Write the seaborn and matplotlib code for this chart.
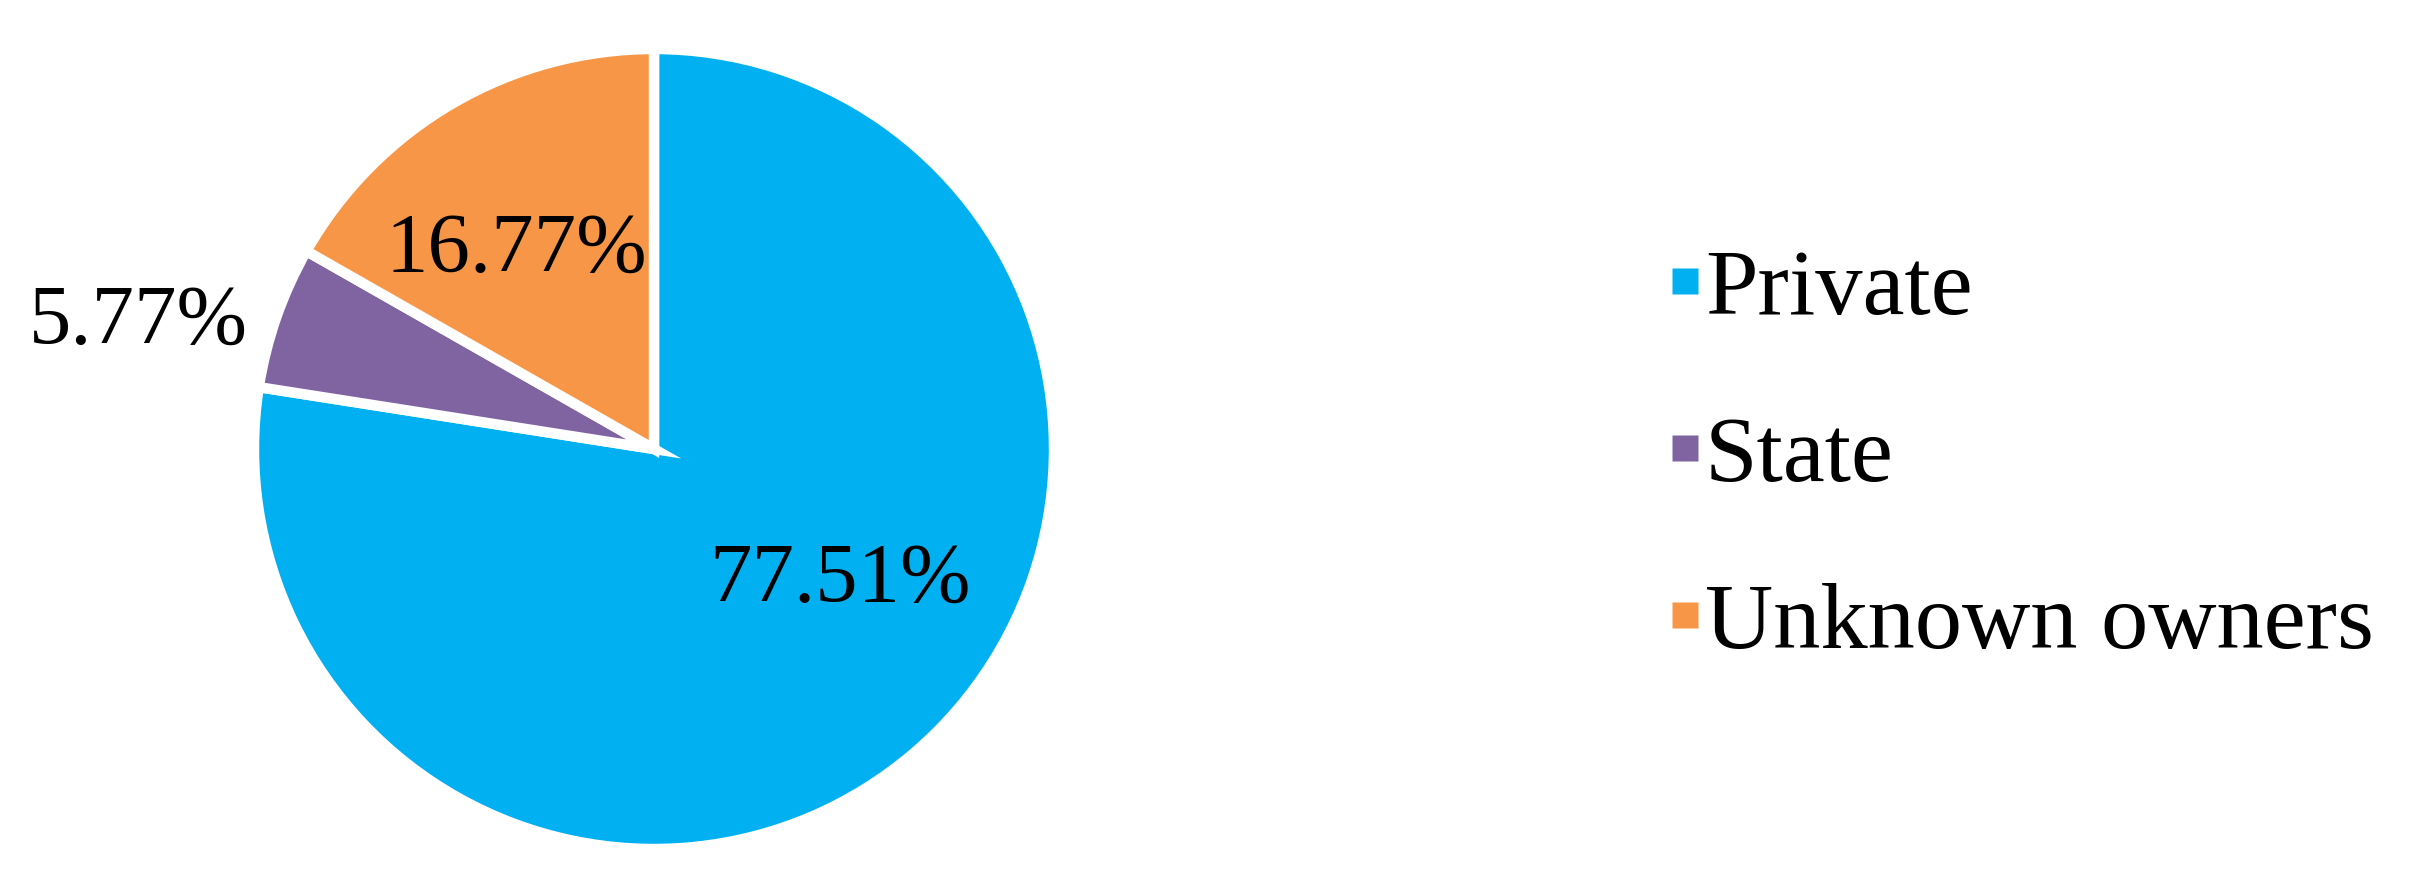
import matplotlib
matplotlib.use('Agg')
import matplotlib.pyplot as plt
from matplotlib.lines import Line2D
import seaborn as sns

# data
owners = ['Private', 'State', 'Unknown owners']
shares = [77.51, 5.77, 16.77]
colors = ['#00B0F0', '#8064A2', '#F79646']
# where each percent label sits (radius units, from the pie centre)
label_pos = [(0.465, -0.33), (-1.29, 0.315), (-0.345, 0.495)]

sns.set_theme(style='white')
plt.rcParams['font.family'] = ['Liberation Serif', 'DejaVu Serif']
plt.rcParams['text.color'] = 'black'

fig = plt.figure(figsize=(24.09, 8.76), dpi=100)
ax = fig.add_axes([(654 - 408) / 2409, (427 - 408) / 876, 816 / 2409, 816 / 876])

wedges, _ = ax.pie(
    shares, colors=colors, startangle=90, counterclock=False, radius=1,
    wedgeprops=dict(edgecolor='white', linewidth=7.5))
for s, (x, y) in zip(shares, label_pos):
    ax.text(x, y, f'{s:.2f}%', ha='center', va='center',
            fontsize=61, color='black')
ax.set_xlim(-1.02, 1.02)
ax.set_ylim(-1.02, 1.02)
ax.set_aspect('equal')
ax.axis('off')

# small square keys
handles = [Line2D([], [], marker='s', linestyle='none', markersize=19,
                  markerfacecolor=c, markeredgecolor='none') for c in colors]
fig.legend(handles, owners, loc='center left',
           bbox_to_anchor=(1675 / 2409, 418 / 876),
           frameon=False, fontsize=68, borderpad=0, borderaxespad=0,
           handlelength=0.215, handletextpad=0.1,
           labelspacing=0.86, labelcolor='black')

fig.savefig('out.png', dpi=100, facecolor='white')
